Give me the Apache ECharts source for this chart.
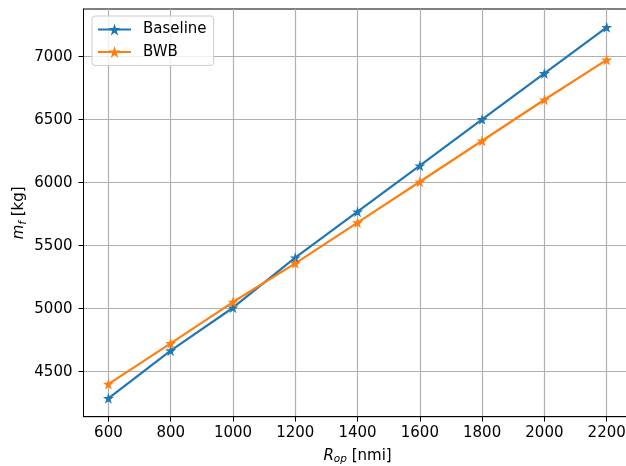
<!DOCTYPE html>
<html>
<head>
<meta charset="utf-8">
<script src="https://cdn.jsdelivr.net/npm/echarts@6/dist/echarts.min.js"></script>
<style>html,body{margin:0;padding:0;background:#fff;overflow:hidden;width:626px;height:466px}#c{width:632px;height:466px}</style>
</head>
<body>
<div id="c"></div>
<script>
const ranges = [600, 800, 1000, 1200, 1400, 1600, 1800, 2000, 2200];
const baseline = [4289, 4667, 5008, 5405, 5770, 6135, 6503, 6868, 7234];
const bwb = [4402, 4725, 5053, 5360, 5683, 6008, 6333, 6659, 6975];
const xTicks = [600, 800, 1000, 1200, 1400, 1600, 1800, 2000, 2200];
const yTicks = [4500, 5000, 5500, 6000, 6500, 7000];

const star = 'path://M50,0 L61.8,35.1 L98.9,35.1 L68.8,56.8 L80.3,92.1 L50,70.3 L19.7,92.1 L31.2,56.8 L1.1,35.1 L38.2,35.1 Z';
const font = 'DejaVu Sans';
const fs = 15;
const chart = echarts.init(document.getElementById('c'), null, {renderer: 'canvas'});

function mk(name, vals, color) {
  return {
    name: name,
    type: 'line',
    data: ranges.map((r, i) => [r, vals[i]]),
    symbol: star,
    symbolSize: 11,
    showSymbol: true,
    itemStyle: {color: color},
    lineStyle: {color: color, width: 2.2},
    emphasis: {disabled: true},
    animation: false
  };
}
const nameStyle = {fontFamily: font, fontSize: fs, color: '#000',
  rich: {i: {fontStyle: 'italic', fontSize: fs, fontFamily: font, color: '#000'},
         sub: {fontStyle: 'italic', fontSize: 10.5, fontFamily: font, color: '#000', padding: [7, 0, 0, 0]}}};

chart.setOption({
  animation: false,
  textStyle: {fontFamily: font},
  grid: {left: 83.5, right: 0.4, top: 9, bottom: 49.3, outerBoundsMode: 'none', containLabel: false,
         show: true, borderColor: '#000', borderWidth: 1, backgroundColor: 'transparent'},
  legend: {
    left: 92, top: 16, orient: 'vertical',
    padding: [6, 7, 6, 5],
    itemWidth: 33, itemHeight: 15, itemGap: 7.4,
    borderColor: '#cccccc', borderWidth: 1, borderRadius: 3,
    backgroundColor: 'rgba(255,255,255,0.8)',
    textStyle: {fontFamily: font, fontSize: fs, color: '#000', padding: [0, 0, 0, 7]},
    data: ['Baseline', 'BWB']
  },
  xAxis: {
    type: 'value', min: 520, max: 2280,
    name: '{i|R}{sub|op} [nmi]',
    nameLocation: 'middle', nameGap: 30, nameMoveOverlap: false,
    nameTextStyle: nameStyle,
    axisLine: {show: true, onZero: false, lineStyle: {color: '#000', width: 1}},
    axisTick: {show: true, length: 5, lineStyle: {color: '#000', width: 1}, customValues: xTicks},
    axisLabel: {fontFamily: font, fontSize: fs, color: '#000', margin: 9, customValues: xTicks, formatter: v => String(v)},
    splitLine: {show: true, lineStyle: {color: '#b0b0b0', width: 1.2}}
  },
  yAxis: {
    type: 'value', min: 4143, max: 7379,
    name: '{i|m}{sub|f} [kg]',
    nameLocation: 'middle', nameGap: 55, nameRotate: 90, nameMoveOverlap: false,
    nameTextStyle: nameStyle,
    axisLine: {show: true, onZero: false, lineStyle: {color: '#000', width: 1}},
    axisTick: {show: true, length: 5, lineStyle: {color: '#000', width: 1}, customValues: yTicks},
    axisLabel: {fontFamily: font, fontSize: fs, color: '#000', margin: 11, customValues: yTicks, formatter: v => String(v)},
    splitLine: {show: true, lineStyle: {color: '#b0b0b0', width: 1.2}}
  },
  series: [mk('Baseline', baseline, '#1f77b4'), mk('BWB', bwb, '#ff7f0e')]
});
</script>
</body>
</html>
